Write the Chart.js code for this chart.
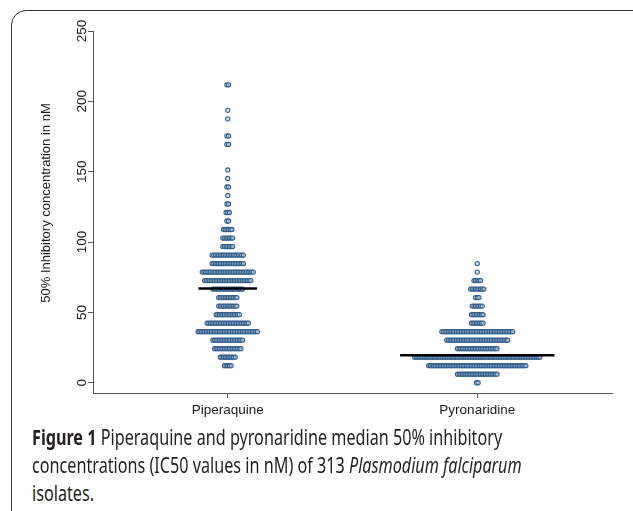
<!DOCTYPE html>
<html>
<head>
<meta charset="utf-8">
<script src="https://cdn.jsdelivr.net/npm/chart.js@4.4.1/dist/chart.umd.min.js"></script>
<style>
  body { margin: 0; background: #fff; width: 633px; height: 511px; overflow: hidden; position: relative; }
  #frame { position: absolute; left: 11px; top: 10px; width: 640px; height: 560px; border: 1.6px solid #333; border-radius: 15px; box-sizing: border-box; }
  #wrap { position: absolute; left: 0; top: 0; width: 633px; height: 425px; }
  .cap { position: absolute; left: 32px; white-space: nowrap; font-family: "Noto Sans", "Open Sans", sans-serif; font-size: 21px; line-height: 28px; color: #231f20; transform-origin: 0 50%; }
</style>
</head>
<body>
<div id="frame"></div>
<div id="wrap"><canvas id="myChart" width="633" height="425"></canvas></div>
<div class="cap" id="cap1" style="top:423px"><b>Figure 1</b> Piperaquine and pyronaridine median 50% inhibitory</div>
<div class="cap" id="cap2" style="top:451px">concentrations (IC50 values in nM) of 313 <i>Plasmodium falciparum</i></div>
<div class="cap" id="cap3" style="top:479px">isolates.</div>
<script>
const categories = ["Piperaquine", "Pyronaridine"];
const yTicks = [0, 50, 100, 150, 200, 250];
const yTitle = "50% Inhibitory concentration in nM";

// dot rows: bin value (nM) and number of isolates in that row
const pipBins = [12.1, 18.15, 24.2, 30.25, 36.3, 42.35, 48.4, 54.45, 60.5, 66.55, 72.6, 78.65, 84.7, 90.75, 96.8,
  102.85, 108.9, 114.95, 121.0, 127.05, 133.1, 139.15, 145.2, 151.25, 169.4, 175.45, 187.55, 193.6, 211.75];
const pipCounts = [5, 10, 17, 19, 37, 26, 15, 12, 12, 19, 29, 32, 20, 20, 7,
  7, 6, 2, 3, 2, 1, 2, 1, 1, 2, 2, 1, 1, 2];
const pyrBins = [0, 6.05, 12.1, 18.15, 24.2, 30.25, 36.3, 42.35, 48.4, 54.45, 60.5, 66.55, 72.6, 78.65, 84.7];
const pyrCounts = [2, 25, 60, 77, 25, 38, 44, 8, 8, 7, 3, 9, 5, 1, 1];
const medians = [67, 19.5];

const xStep = 0.0066;   // horizontal gap between stacked dots (x units)
const lineMargin = 0.055;

function dotRows(cat, bins, counts) {
  const pts = [];
  bins.forEach((b, i) => {
    const n = counts[i];
    for (let j = 0; j < n; j++) {
      pts.push({ x: cat + (j - (n - 1) / 2) * xStep, y: b });
    }
  });
  return pts;
}

function medianLine(cat, med, bins, counts) {
  // line spans the row nearest the median plus a margin
  let best = 0, n = 1;
  bins.forEach((b, i) => {
    if (Math.abs(b - med) < Math.abs(best - med) || i === 0) { best = b; n = counts[i]; }
  });
  const hw = (n * xStep) / 2 + lineMargin;
  return [{ x: cat - hw, y: med }, { x: cat + hw, y: med }];
}

const axisText = {
  id: 'axisText',
  afterDraw(c) {
    const ctx = c.ctx, ys = c.scales.y;
    ctx.save();
    ctx.fillStyle = '#1a1a1a';
    ctx.font = '13.5px "Liberation Sans", Arial, sans-serif';
    ctx.textAlign = 'center';
    ctx.textBaseline = 'middle';
    yTicks.forEach(v => {
      ctx.save();
      ctx.translate(82, ys.getPixelForValue(v));
      ctx.rotate(-Math.PI / 2);
      ctx.fillText(String(v), 0, 0);
      ctx.restore();
    });
    ctx.font = '13px "Liberation Sans", Arial, sans-serif';
    ctx.translate(46, 203);
    ctx.rotate(-Math.PI / 2);
    ctx.fillText(yTitle, 0, 0);
    ctx.restore();
  }
};

const dotStyle = {
  pointRadius: 2.1,
  pointBorderWidth: 1.1,
  borderColor: '#34608c',
  backgroundColor: 'rgba(190,208,230,0.6)',
  pointHoverRadius: 2.1
};

const ctx = document.getElementById("myChart").getContext("2d");
new Chart(ctx, {
  type: "scatter",
  data: {
    datasets: [
      { data: medianLine(1, medians[0], pipBins, pipCounts), showLine: true, borderColor: '#000', borderWidth: 2.5, pointRadius: 0 },
      { data: medianLine(2, medians[1], pyrBins, pyrCounts), showLine: true, borderColor: '#000', borderWidth: 2.5, pointRadius: 0 },
      Object.assign({ data: dotRows(1, pipBins, pipCounts) }, dotStyle),
      Object.assign({ data: dotRows(2, pyrBins, pyrCounts) }, dotStyle)
    ]
  },
  options: {
    responsive: false,
    animation: false,
    layout: { padding: { left: 0, top: 31, right: 21, bottom: 0 } },
    plugins: { legend: { display: false }, tooltip: { enabled: false } },
    scales: {
      x: {
        type: "linear",
        min: 0.46,
        max: 2.54,
        afterBuildTicks: s => { s.ticks = categories.map((_, i) => ({ value: i + 1 })); },
        afterFit: s => { s.height = 32; },
        ticks: {
          callback: v => categories[v - 1] || "",
          font: { family: '"Liberation Sans", Arial, sans-serif', size: 13.5 },
          color: '#1a1a1a',
          padding: 4,
          maxRotation: 0
        },
        grid: { drawOnChartArea: false, tickLength: 5, color: '#555' },
        border: { color: '#555', width: 1 }
      },
      y: {
        type: "linear",
        min: -7.3,
        max: 250,
        afterBuildTicks: s => { s.ticks = yTicks.map(v => ({ value: v })); },
        afterFit: s => { s.width = 93; },
        ticks: { display: false },
        grid: { drawOnChartArea: false, tickLength: 5, color: '#555' },
        border: { color: '#555', width: 1 }
      }
    }
  },
  plugins: [axisText]
});

// squeeze caption to the narrow face used in the figure
const cap1 = document.getElementById("cap1");
const k = 470 / cap1.scrollWidth;
["cap1", "cap2", "cap3"].forEach(id => {
  document.getElementById(id).style.transform = "scaleX(" + k + ")";
});
</script>
</body>
</html>
